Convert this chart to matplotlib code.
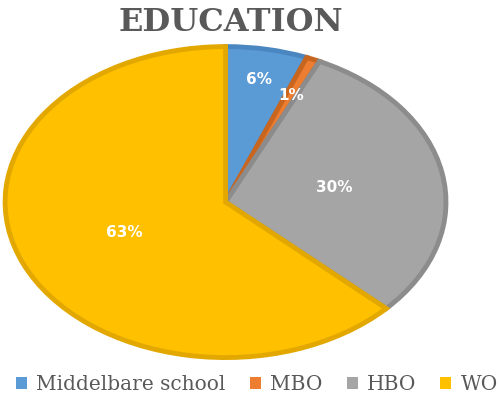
import numpy as np
import matplotlib.pyplot as plt

categories = ['Middelbare school', 'MBO', 'HBO', 'WO']
shares = [6, 1, 30, 63]
colors = ['#5B9BD5', '#ED7D31', '#A5A5A5', '#FFC000']
edge_colors = ['#4A86C0', '#C8661F', '#8C8C8C', '#E3A800']
label_dist = [0.8, 0.75, 0.5, 0.5]

fig = plt.figure(figsize=(4.99, 4.07), dpi=100)
ax = fig.add_axes([-0.003, 0.11, 0.91, 0.787])

wedges, texts, autotexts = ax.pie(
    shares, colors=colors, startangle=90, counterclock=False,
    autopct='%1.0f%%', pctdistance=0.5,
    wedgeprops=dict(linewidth=3.5),
    textprops=dict(color='white', fontweight='bold', fontsize=11,
                   family='DejaVu Sans'))

for w, ec in zip(wedges, edge_colors):
    w.set_edgecolor(ec)

# small slices have their labels further out
for w, t, d in zip(wedges, autotexts, label_dist):
    ang = np.deg2rad((w.theta1 + w.theta2) / 2)
    t.set_position((d * np.cos(ang), d * np.sin(ang)))

ax.set_aspect('auto')
ax.set_xlim(-1.03, 1.03)
ax.set_ylim(-1.03, 1.03)

fig.text(0.462, 0.944, 'EDUCATION', ha='center', va='center',
         fontsize=23, fontweight='bold', family='DejaVu Serif',
         color='#595959')

leg = fig.legend(wedges, categories, loc='center', bbox_to_anchor=(0.515, 0.056),
                 ncol=4, frameon=False, handlelength=0.55, handleheight=0.55,
                 handletextpad=0.45, columnspacing=1.2,
                 prop=dict(family='DejaVu Serif', size=14.5))
for h in leg.legend_handles:
    h.set_linewidth(0)
for t in leg.get_texts():
    t.set_color('#595959')

fig.savefig('out.png', dpi=100, facecolor='white')
